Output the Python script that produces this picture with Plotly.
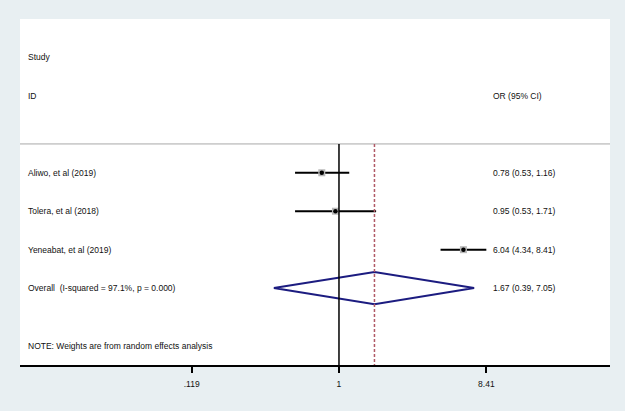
import plotly.graph_objects as go

studies = ["Aliwo, et al (2019)", "Tolera, et al (2018)", "Yeneabat, et al (2019)"]
or_est = [0.78, 0.95, 6.04]
ci_low = [0.53, 0.53, 4.34]
ci_high = [1.16, 1.71, 8.41]
overall_label = "Overall  (I-squared = 97.1%, p = 0.000)"
overall_est = 1.67
overall_low = 0.39
overall_high = 7.05
tick_vals = [0.119, 1, 8.41]
tick_text = [".119", "1", "8.41"]
note = "NOTE: Weights are from random effects analysis"

FONT = "Arial, Liberation Sans, sans-serif"
rows = [1, 2, 3]
overall_row = 4
top_row, bottom_row = -3, 6
sep_row = 0.25

fig = go.Figure()

# separator line
fig.add_shape(type="line", xref="paper", yref="y", x0=0, x1=1, y0=sep_row, y1=sep_row,
              line=dict(color="#a8a8a8", width=1))
# null line
fig.add_shape(type="line", xref="x", yref="y", x0=1, x1=1, y0=sep_row, y1=bottom_row,
              line=dict(color="black", width=1.5))
# overall dashed line
fig.add_shape(type="line", xref="x", yref="y", x0=overall_est, x1=overall_est, y0=sep_row, y1=bottom_row,
              line=dict(color="#b05a66", width=1.5, dash="3px,2px"))

# CI lines
for r, lo, hi in zip(rows, ci_low, ci_high):
    fig.add_trace(go.Scatter(x=[lo, hi], y=[r, r], mode="lines",
                             line=dict(color="black", width=2), showlegend=False, hoverinfo="skip"))
# weight boxes
fig.add_trace(go.Scatter(x=or_est, y=rows, mode="markers",
                         marker=dict(symbol="square", size=7, color="#b8b8b8", line=dict(width=0)),
                         showlegend=False))
fig.add_trace(go.Scatter(x=or_est, y=rows, mode="markers",
                         marker=dict(symbol="circle", size=4.5, color="black"),
                         showlegend=False))
# diamond
h = 0.42
fig.add_trace(go.Scatter(
    x=[overall_low, overall_est, overall_high, overall_est, overall_low],
    y=[overall_row, overall_row - h, overall_row, overall_row + h, overall_row],
    mode="lines", line=dict(color="#1c1c80", width=2), showlegend=False))

ann = []
def txt(x, y, s):
    ann.append(dict(x=x, y=y, xref="paper", yref="y", text=s, showarrow=False,
                    xanchor="left", yanchor="middle",
                    font=dict(family=FONT, size=8.5, color="#111111")))

lx = 0.0102
rx = 0.798
txt(lx, -2, "Study")
txt(lx, -1, "ID")
txt(rx, -1, "OR (95% CI)")
for r, s, e, lo, hi in zip(rows, studies, or_est, ci_low, ci_high):
    txt(lx, r, s)
    txt(rx, r, f"{e:.2f} ({lo:.2f}, {hi:.2f})")
txt(lx, overall_row, overall_label)
txt(rx, overall_row, f"{overall_est:.2f} ({overall_low:.2f}, {overall_high:.2f})")
txt(lx, 5.5, note)

fig.update_layout(
    width=625, height=411,
    margin=dict(l=20, r=15, t=19, b=46),
    paper_bgcolor="#e8eff2",
    plot_bgcolor="white",
    annotations=ann,
    xaxis=dict(type="log", range=[-2.002, 1.701], tickvals=tick_vals, ticktext=tick_text,
               ticks="outside", ticklen=6, tickwidth=1.5, tickcolor="black",
               ticklabelstandoff=4,
               showline=True, linecolor="black", linewidth=1.5,
               showgrid=False, zeroline=False,
               tickfont=dict(family=FONT, size=8.5, color="#111111")),
    yaxis=dict(range=[bottom_row, top_row], showgrid=False, zeroline=False,
               showticklabels=False, showline=False),
)

fig.write_html("out.html", config={"displayModeBar": False},
               post_script="document.body.style.margin='0';document.body.style.background='#e8eff2';")
